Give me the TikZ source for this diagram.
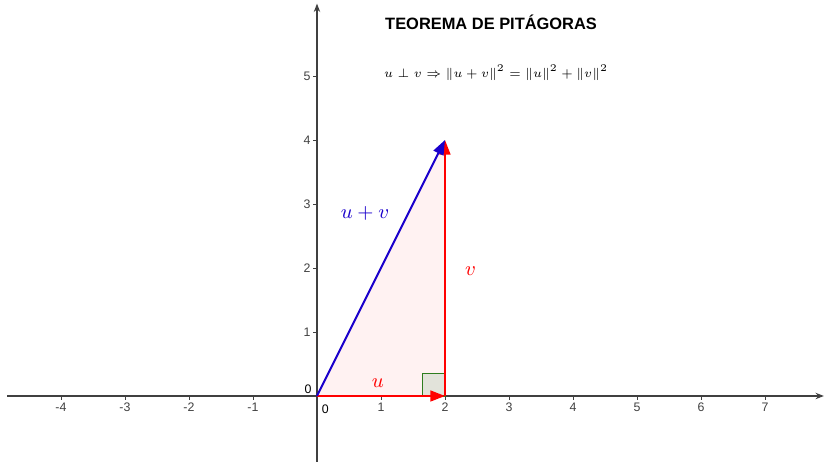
\documentclass[tikz,border=0pt]{standalone}
\usepackage{amsmath,amssymb}
\usepackage{fontspec}
\setsansfont{Liberation Sans}
\usepackage{tikz}
\usetikzlibrary{arrows.meta,positioning}
\definecolor{vecred}{HTML}{FF0000}
\definecolor{vecblue}{HTML}{1A00CC}
\definecolor{anglegreen}{HTML}{2E7D1E}
\definecolor{anglefill}{HTML}{E2E3DA}

\begin{document}
\begin{tikzpicture}[
  axis/.style={black!75, line width=0.5pt, -{Stealth[length=1.3mm,width=1mm]}},
  tick/.style={black!75, line width=0.4pt},
  ticklabel/.style={font=\sffamily\fontsize{5.5}{6}\selectfont, inner sep=1pt},
  vec/.style={line width=0.9pt, -{Triangle[length=2.3mm,width=1.7mm]}},
  veclabel/.style={font=\fontsize{9}{10}\selectfont}]
\useasboundingbox (-4.953,-1.047) rectangle (7.922,6.1875);
% axes
\coordinate (xl) at (-4.84,0);
\coordinate (xr) at (7.92,0);
\coordinate (yb) at (0,-1.03);
\coordinate (yt) at (0,6.13);
\draw[axis] (xl) -- (xr);
\draw[axis] (yb) -- (yt);
\foreach \x in {-4,-3,-2,-1,1,2,3,4,5,6,7}
  \draw[tick] (\x,0) -- (\x,-0.06) node[ticklabel, below] {\x};
\foreach \y in {1,2,3,4,5}
  \draw[tick] (0,\y) -- (-0.06,\y) node[ticklabel, left] {\y};
\node[ticklabel] (zx) at (0.13,-0.2) {0};
\node[ticklabel] (zy) at (-0.14,0.1) {0};
% triangle
\coordinate (O) at (0,0);
\coordinate (A) at (2,0);
\coordinate (B) at (2,4);
\fill[red!5] (O) -- (A) -- (B) -- cycle;
\filldraw[fill=anglefill, draw=anglegreen, line width=0.6pt]
  (A) rectangle ++(-0.35,0.35);
\draw[vec, vecred] (O) -- (A);
\draw[vec, vecred] (A) -- (B);
\draw[vec, vecblue] (O) -- (B);
\node[veclabel, vecred] (lu) at (0.95,0.2) {$u$};
\node[veclabel, vecred] (lv) at (2.4,1.95) {$v$};
\node[veclabel, vecblue] (luv) at (0.75,2.86) {$u+v$};
% title and formula
\node[font=\sffamily\bfseries\fontsize{7.3}{8}\selectfont] (title) at (2.72,5.84) {TEOREMA DE PIT\'AGORAS};
\node[font=\fontsize{6}{7}\selectfont, scale=0.91, transform shape] (formula) at (2.8,5.05)
  {$u\perp v \Rightarrow \|u+v\|^2=\|u\|^2+\|v\|^2$};
\end{tikzpicture}
\end{document}
